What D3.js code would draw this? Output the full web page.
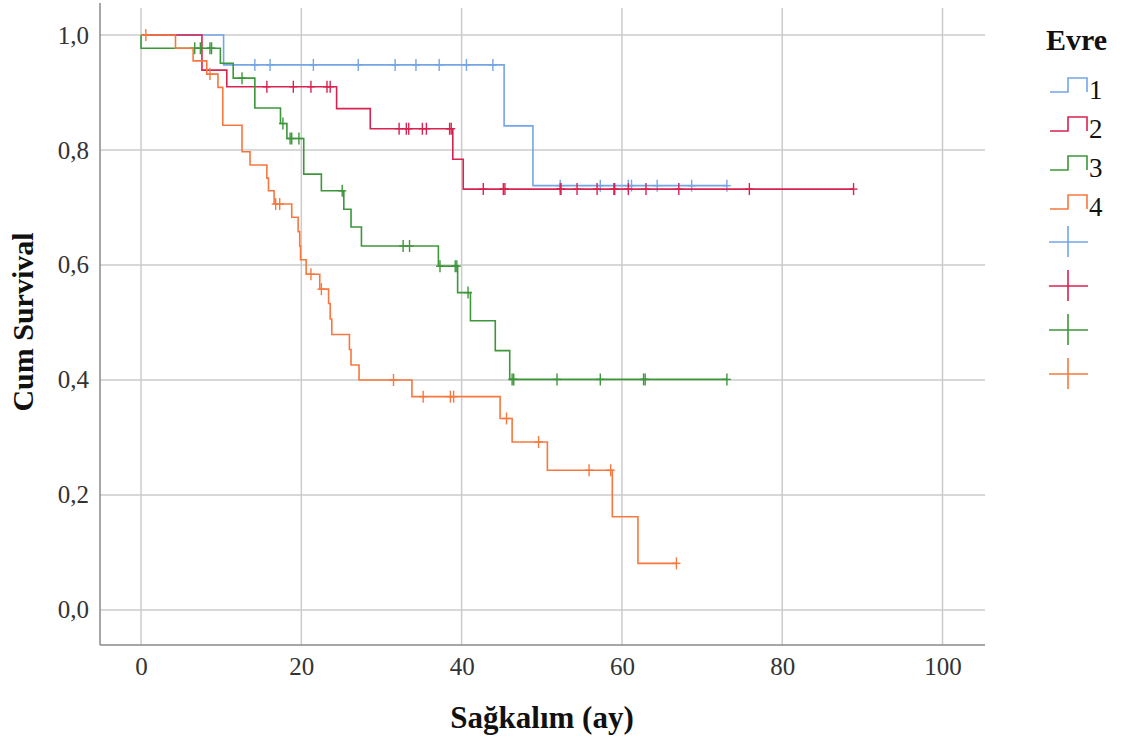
<!DOCTYPE html>
<html>
<head>
<meta charset="utf-8">
<script src="https://cdn.jsdelivr.net/npm/d3@7"></script>
<style>
  body { margin: 0; background: #fff; }
  svg { display: block; }
</style>
</head>
<body>
<svg id="chart" width="1127" height="744"></svg>
<script>
// Evre groups and their colours
var groups = ["1", "2", "3", "4"];
var colors = ["#74a5e6", "#d8224f", "#3c963a", "#f7783e"];

// Kaplan-Meier steps: [time, survival after the event]
var steps1 = [[10.3, 0.948], [45.3, 0.842], [48.9, 0.738]];
var steps2 = [[7.6, 0.939], [10.7, 0.910], [24.4, 0.872], [28.6, 0.837], [38.9, 0.784], [40.2, 0.732]];
var steps3 = [[0, 0.977], [9.9, 0.951], [11.5, 0.925], [14.2, 0.873], [17.4, 0.846], [18.2, 0.820],
  [20.3, 0.758], [22.5, 0.729], [25.3, 0.697], [26.2, 0.666], [27.5, 0.633], [37.1, 0.598],
  [39.5, 0.552], [41.1, 0.503], [44.2, 0.451], [46.0, 0.401]];
var steps4 = [[4.3, 0.977], [6.5, 0.955], [8.2, 0.932], [9.6, 0.909], [10.2, 0.843], [12.6, 0.797],
  [13.6, 0.774], [15.7, 0.751], [15.9, 0.729], [16.6, 0.706], [18.8, 0.683], [19.6, 0.658],
  [19.8, 0.633], [19.9, 0.609], [20.6, 0.584], [22.3, 0.558], [23.4, 0.533], [23.6, 0.506],
  [23.8, 0.479], [26.0, 0.453], [26.2, 0.426], [27.2, 0.400], [33.8, 0.371], [44.8, 0.333],
  [46.3, 0.292], [50.7, 0.243], [58.8, 0.162], [62.0, 0.081]];

// censored times
var cens1 = [14.2, 16.1, 21.5, 27.1, 31.7, 34.3, 37.2, 40.6, 43.9, 52.3, 57.3, 60.8, 61.2, 64.4, 68.7, 73.1];
var cens2 = [15.7, 19.0, 21.2, 23.2, 23.6, 32.2, 33.1, 33.4, 35.1, 35.6, 38.5, 38.7, 42.7, 45.2, 45.4,
  52.3, 52.4, 54.4, 56.9, 59.0, 59.1, 60.8, 63.0, 67.1, 75.9, 88.9];
var cens3 = [6.7, 7.4, 8.6, 8.8, 12.6, 17.7, 18.6, 18.8, 19.7, 25.1, 32.7, 33.5, 37.3, 39.2, 39.4,
  40.8, 46.3, 46.5, 51.9, 57.3, 62.7, 62.9, 73.1];
var cens4 = [0.6, 8.6, 16.8, 17.3, 21.2, 22.5, 31.5, 35.2, 38.6, 39.0, 45.6, 49.6, 55.9, 58.6, 66.8];

var xTicks = [0, 20, 40, 60, 80, 100];
var yTicks = [0, 0.2, 0.4, 0.6, 0.8, 1.0];

var stepSets = [steps1, steps2, steps3, steps4];
var censSets = [cens1, cens2, cens3, cens4];

var svg = d3.select("#chart");
var mLeft = 100, mRight = 985, mTop = 8, mBottom = 645;

var x = d3.scaleLinear().domain([-5.12, 105.3]).range([mLeft, mRight]);
var y = d3.scaleLinear().domain([-0.061, 1.047]).range([mBottom, mTop]);

var serif = "'Liberation Serif', 'Times New Roman', serif";

// grid
svg.append("g").selectAll("line").data(xTicks).enter().append("line")
  .attr("x1", function (d) { return x(d); }).attr("x2", function (d) { return x(d); })
  .attr("y1", mTop).attr("y2", mBottom)
  .attr("stroke", "#cbcbcb").attr("stroke-width", 1.5);
svg.append("g").selectAll("line").data(yTicks).enter().append("line")
  .attr("x1", mLeft).attr("x2", mRight)
  .attr("y1", function (d) { return y(d); }).attr("y2", function (d) { return y(d); })
  .attr("stroke", "#cbcbcb").attr("stroke-width", 1.5);

// axes
var xAxis = d3.axisBottom(x).tickValues(xTicks).tickSize(0).tickPadding(12)
  .tickFormat(d3.format("d"));
var yAxis = d3.axisLeft(y).tickValues(yTicks).tickSize(0).tickPadding(11)
  .tickFormat(function (d) { return d3.format(".1f")(d).replace(".", ","); });

var gx = svg.append("g").attr("transform", "translate(0," + mBottom + ")").call(xAxis);
var gy = svg.append("g").attr("transform", "translate(" + mLeft + ",0)").call(yAxis);
[gx, gy].forEach(function (g) {
  g.select(".domain").remove();
  g.selectAll("text").attr("font-family", serif).attr("font-size", 25).attr("fill", "#333");
});
svg.append("line").attr("x1", mLeft).attr("x2", mLeft).attr("y1", 3).attr("y2", mBottom)
  .attr("stroke", "#8a8a8a").attr("stroke-width", 1.5);
svg.append("line").attr("x1", mLeft).attr("x2", mRight).attr("y1", mBottom).attr("y2", mBottom)
  .attr("stroke", "#8a8a8a").attr("stroke-width", 1.5);

// axis titles
svg.append("text").attr("transform", "translate(33,322) rotate(-90)")
  .attr("text-anchor", "middle").attr("font-family", serif).attr("font-weight", "bold")
  .attr("font-size", 30).attr("fill", "#111").text("Cum Survival");
svg.append("text").attr("x", 542).attr("y", 728)
  .attr("text-anchor", "middle").attr("font-family", serif).attr("font-weight", "bold")
  .attr("font-size", 31).attr("fill", "#111").text("Sağkalım (ay)");

// survival curves
var line = d3.line().x(function (d) { return x(d[0]); }).y(function (d) { return y(d[1]); })
  .curve(d3.curveStepAfter);

function survAt(steps, t) {
  var s = 1;
  steps.forEach(function (p) { if (p[0] <= t) s = p[1]; });
  return s;
}

groups.forEach(function (g, i) {
  var steps = stepSets[i], cens = censSets[i];
  var end = Math.max(d3.max(cens), steps[steps.length - 1][0]);
  var pts = [[0, 1]].concat(steps);
  pts.push([end, steps[steps.length - 1][1]]);
  svg.append("path").attr("d", line(pts)).attr("fill", "none")
    .attr("stroke", colors[i]).attr("stroke-width", 1.6);

  var marks = svg.append("g").attr("stroke", colors[i]).attr("stroke-width", 1.4);
  cens.forEach(function (t) {
    var cx = x(t), cy = y(survAt(steps, t));
    marks.append("line").attr("x1", cx).attr("x2", cx).attr("y1", cy - 6).attr("y2", cy + 6);
    marks.append("line").attr("x1", cx - 4).attr("x2", cx + 4).attr("y1", cy).attr("y2", cy);
  });
});

// legend
var lg = svg.append("g");
lg.append("text").attr("x", 1046).attr("y", 50).attr("font-family", serif)
  .attr("font-weight", "bold").attr("font-size", 30).attr("fill", "#111").text("Evre");
groups.forEach(function (g, i) {
  var by = 92 + i * 39;
  lg.append("path")
    .attr("d", "M1050," + by + "H1068V" + (by - 14) + "H1087V" + by)
    .attr("fill", "none").attr("stroke", colors[i]).attr("stroke-width", 1.6);
  lg.append("text").attr("x", 1089).attr("y", by + 7).attr("font-family", serif)
    .attr("font-size", 27).attr("fill", "#111").text(g);
});
groups.forEach(function (g, i) {
  var cy = 242 + i * 44;
  lg.append("line").attr("x1", 1049).attr("x2", 1088).attr("y1", cy).attr("y2", cy)
    .attr("stroke", colors[i]).attr("stroke-width", 1.6);
  lg.append("line").attr("x1", 1068).attr("x2", 1068).attr("y1", cy - 16).attr("y2", cy + 15)
    .attr("stroke", colors[i]).attr("stroke-width", 1.6);
});
</script>
</body>
</html>
